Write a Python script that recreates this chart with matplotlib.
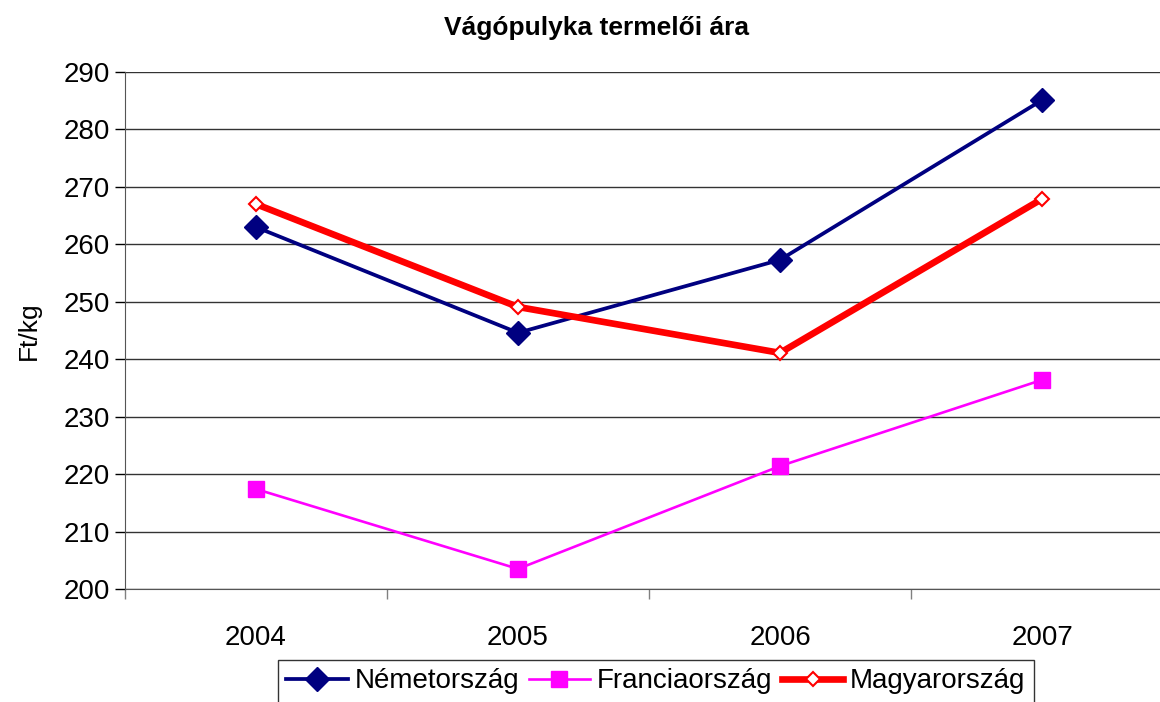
"""Vágópulyka termelői ára - line chart of turkey producer prices."""

import matplotlib

matplotlib.use("Agg")

import matplotlib.pyplot as plt

YEARS = ["2004", "2005", "2006", "2007"]
NEMETORSZAG = [263.0, 244.6, 257.3, 285.1]
FRANCIAORSZAG = [217.4, 203.5, 221.4, 236.4]
MAGYARORSZAG = [267.0, 249.1, 241.1, 267.9]

Y_TICKS = list(range(200, 291, 10))

W, H = 1160, 702

plt.rcParams["font.family"] = ["Liberation Sans", "DejaVu Sans"]

fig = plt.figure(figsize=(W / 100, H / 100), dpi=100, facecolor="white")
# plot area: x 125..1173 px (clipped on the right), y 72..589 px
ax = fig.add_axes([125 / W, 1 - 589 / H, 1048 / W, 517 / H])

x = [i + 0.5 for i in range(len(YEARS))]

ax.plot(x, NEMETORSZAG, color="#000080", lw=2.7, marker="D", ms=12,
        mfc="#000080", mec="#000080", label="Németország", zorder=3)
ax.plot(x, FRANCIAORSZAG, color="#FF00FF", lw=1.9, marker="s", ms=12,
        mfc="#FF00FF", mec="#FF00FF", label="Franciaország", zorder=3)
ax.plot(x, MAGYARORSZAG, color="#FF0000", lw=4.8, marker="D", ms=7,
        mfc="white", mec="#FF0000", mew=1.5, label="Magyarország", zorder=4)

ax.set_xlim(0, len(YEARS))
ax.set_ylim(200, 290)
ax.set_yticks(Y_TICKS)
ax.set_xticks(range(len(YEARS) + 1))
ax.set_xticklabels([])
ax.set_xticks(x, minor=True)
ax.set_xticklabels(YEARS, minor=True)
ax.tick_params(axis="x", which="minor", length=0, pad=26, labelsize=20)
ax.tick_params(axis="x", which="major", length=7, width=1, color="#808080")
ax.tick_params(axis="y", length=7, width=1, labelsize=20, pad=4)

ax.yaxis.grid(True, color="#333333", lw=1)
ax.set_axisbelow(True)
for side in ("top", "right"):
    ax.spines[side].set_visible(False)
ax.spines["left"].set_color("#555555")
ax.spines["bottom"].set_color("#555555")

ax.set_ylabel("Ft/kg", fontsize=19, labelpad=16)

fig.text(597 / W, 1 - 28 / H, "Vágópulyka termelői ára", ha="center",
         va="center", fontsize=19, fontweight="bold")

leg = fig.legend(loc="upper center", bbox_to_anchor=(656 / W, 1 - 660 / H),
                 ncol=3, fontsize=20, frameon=True, fancybox=False,
                 edgecolor="black", handlelength=2.2, columnspacing=0.35,
                 handletextpad=0.25, borderpad=0.3, borderaxespad=0)
leg.get_frame().set_linewidth(1)

fig.savefig("out.png", dpi=100, facecolor="white")
